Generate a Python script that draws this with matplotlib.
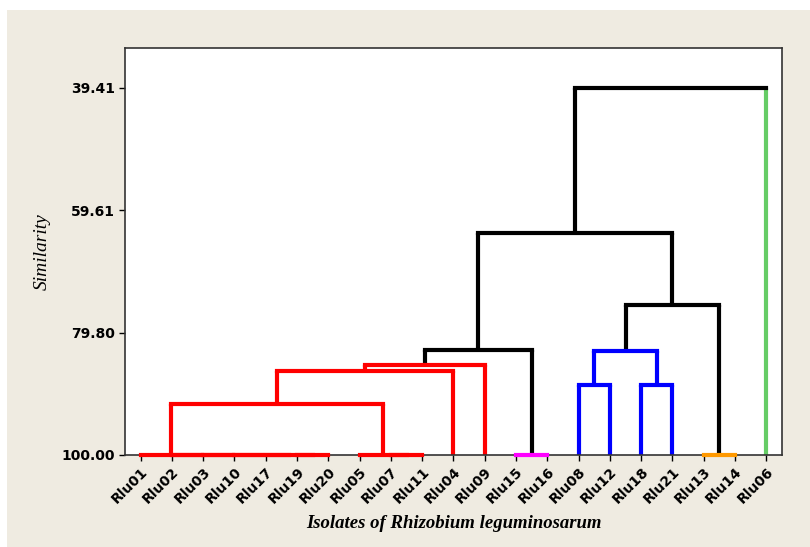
import matplotlib.pyplot as plt
from matplotlib.patches import Rectangle

# leaves in the order they appear along the x axis
leaves = ['Rlu01', 'Rlu02', 'Rlu03', 'Rlu10', 'Rlu17', 'Rlu19', 'Rlu20',
          'Rlu05', 'Rlu07', 'Rlu11', 'Rlu04', 'Rlu09', 'Rlu15', 'Rlu16',
          'Rlu08', 'Rlu12', 'Rlu18', 'Rlu21', 'Rlu13', 'Rlu14', 'Rlu06']
leaf_colors = ['red'] * 12 + ['magenta'] * 2 + ['blue'] * 4 + ['orange'] * 2 + ['green']

# merges: (left child, right child, similarity, colour) - new nodes numbered from 21
merge_left = [5, 4, 3, 2, 1, 0, 8, 7, 12, 18, 26, 31, 32, 33, 14, 16, 35, 37, 34, 39]
merge_right = [6, 21, 22, 23, 24, 25, 9, 27, 13, 19, 28, 10, 11, 29, 15, 17, 36, 30, 38, 20]
merge_sim = [100, 100, 100, 100, 100, 100, 100, 100, 100, 100,
             91.5, 86.1, 85.2, 82.7, 88.5, 88.5, 82.8, 75.2, 63.4, 39.41]
merge_color = ['red'] * 8 + ['magenta', 'orange', 'red', 'red', 'red', 'black',
                             'blue', 'blue', 'blue', 'black', 'black', 'black']

yticks = [39.41, 59.61, 79.80, 100.00]

palette = {'red': '#ff0000', 'magenta': '#ff00ff', 'blue': '#0000ff',
           'orange': '#ff9900', 'green': '#66cc66', 'black': '#000000'}

fig = plt.figure(figsize=(8.1, 5.47), dpi=100, facecolor='white')
fig.patches.append(Rectangle((7 / 810, 0), 1, 1 - 10 / 547, transform=fig.transFigure,
                             facecolor='#efebe1', edgecolor='none', zorder=-5))
ax = fig.add_axes([0.1543, 0.1682, 0.9654 - 0.1543, 0.9122 - 0.1682])
ax.set_facecolor('white')

# x position and height of every node
pos = {i: float(i) for i in range(len(leaves))}
height = {i: 100.0 for i in range(len(leaves))}
n = len(leaves)
for k in range(len(merge_left)):
    a, b, s = merge_left[k], merge_right[k], merge_sim[k]
    c = palette[merge_color[k]]
    for child in (a, b):
        leg = palette[leaf_colors[child]] if child < n else c
        ax.plot([pos[child], pos[child]], [height[child], s], color=leg, lw=3,
                solid_capstyle='butt', zorder=2, clip_on=False)
    ax.plot([pos[a], pos[b]], [s, s], color=c, lw=3, solid_capstyle='projecting',
            zorder=3, clip_on=False)
    pos[n + k] = (pos[a] + pos[b]) / 2
    height[n + k] = s

ax.set_xlim(-0.5, len(leaves) - 0.5)
ax.set_ylim(100, 32.82)
ax.set_xticks(range(len(leaves)))
ax.set_xticklabels(leaves, rotation=45, ha='right', va='top', rotation_mode='anchor',
                   fontsize=10, fontweight='bold')
ax.set_yticks(yticks)
ax.set_yticklabels(['%.2f' % t for t in yticks], fontsize=10, fontweight='bold')
ax.tick_params(length=4, width=1, pad=3)
for sp in ax.spines.values():
    sp.set_linewidth(1.2)
    sp.set_color('#333333')

ax.set_ylabel('Similarity', family='Liberation Serif', style='italic', fontsize=14, labelpad=8)
ax.set_xlabel('Isolates of Rhizobium leguminosarum', family='Liberation Serif',
              style='italic', fontweight='bold', fontsize=13.5, labelpad=6)

plt.savefig('out.png', dpi=100, facecolor=fig.get_facecolor())
